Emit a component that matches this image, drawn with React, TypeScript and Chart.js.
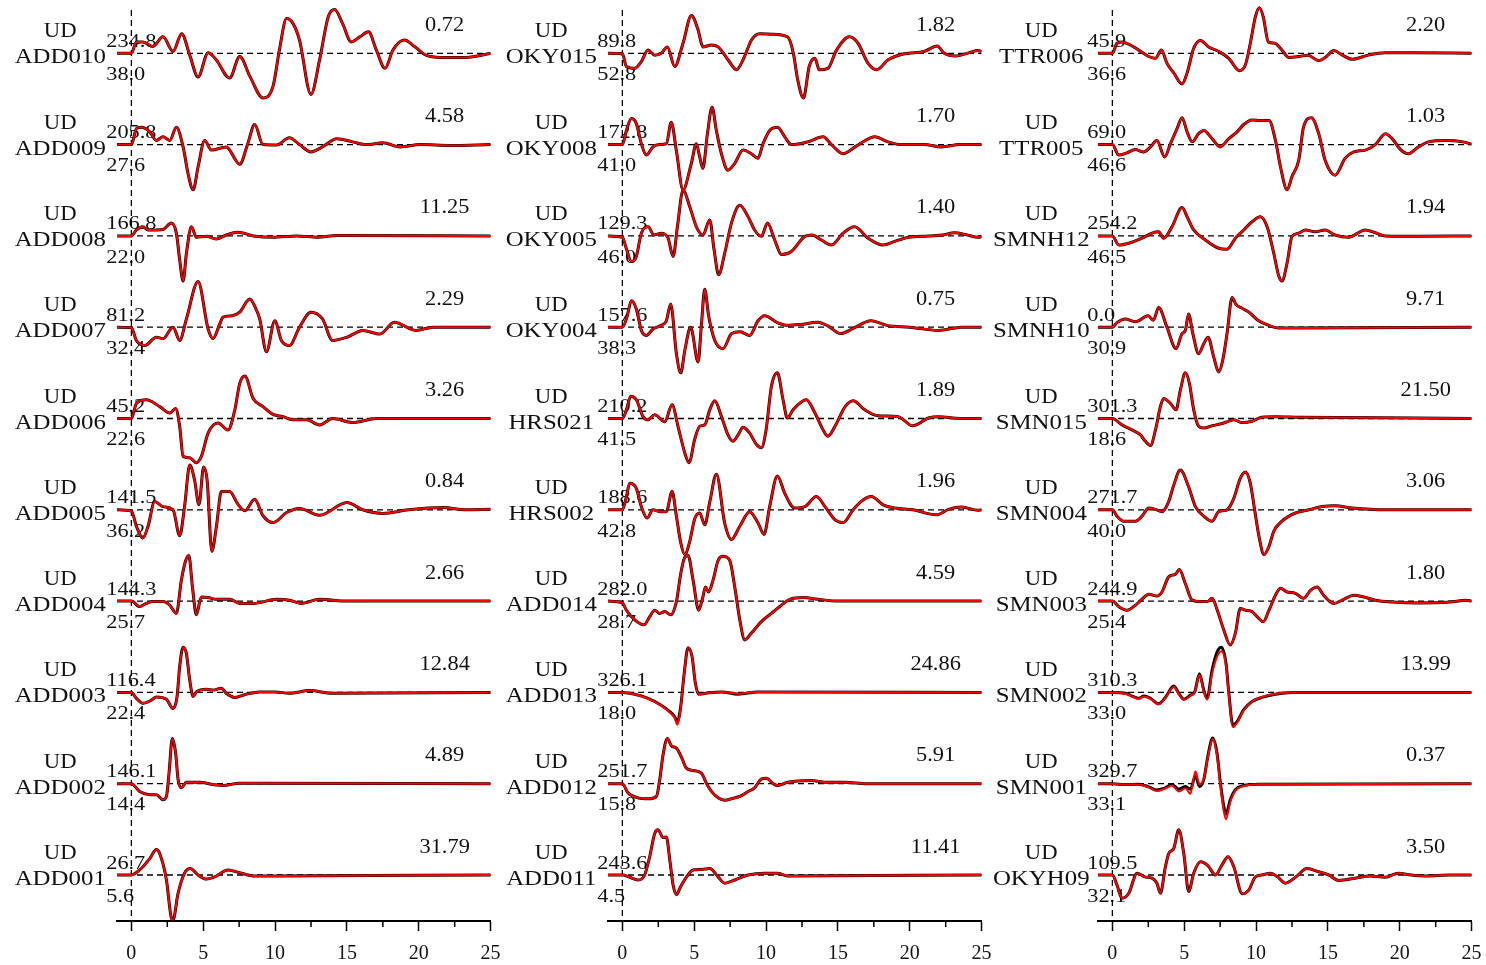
import { useEffect, useRef } from "react";
import { Chart, registerables } from "chart.js";

Chart.register(...registerables);

type Pt = [number, number];

// ---- station labels, one array per column (top row first) ----
const col1Stations = ["ADD010", "ADD009", "ADD008", "ADD007", "ADD006", "ADD005", "ADD004", "ADD003", "ADD002", "ADD001"];
const col1Azimuth = ["234.8", "205.8", "166.8", "81.2", "45.2", "141.5", "144.3", "116.4", "146.1", "26.7"];
const col1Distance = ["38.0", "27.6", "22.0", "32.4", "22.6", "36.2", "25.7", "22.4", "14.4", "5.6"];
const col1Peak = ["0.72", "4.58", "11.25", "2.29", "3.26", "0.84", "2.66", "12.84", "4.89", "31.79"];

const col2Stations = ["OKY015", "OKY008", "OKY005", "OKY004", "HRS021", "HRS002", "ADD014", "ADD013", "ADD012", "ADD011"];
const col2Azimuth = ["89.8", "172.8", "129.3", "157.6", "210.2", "188.6", "282.0", "326.1", "251.7", "243.6"];
const col2Distance = ["52.8", "41.0", "46.0", "38.3", "41.5", "42.8", "28.7", "18.0", "15.8", "4.5"];
const col2Peak = ["1.82", "1.70", "1.40", "0.75", "1.89", "1.96", "4.59", "24.86", "5.91", "11.41"];

const col3Stations = ["TTR006", "TTR005", "SMNH12", "SMNH10", "SMN015", "SMN004", "SMN003", "SMN002", "SMN001", "OKYH09"];
const col3Azimuth = ["45.9", "69.0", "254.2", "0.0", "301.3", "271.7", "244.9", "310.3", "329.7", "109.5"];
const col3Distance = ["36.6", "46.6", "46.5", "30.9", "18.6", "40.0", "25.4", "33.0", "33.1", "32.1"];
const col3Peak = ["2.20", "1.03", "1.94", "9.71", "21.50", "3.06", "1.80", "13.99", "0.37", "3.50"];

const xTickValues = [0, 5, 10, 15, 20, 25];
const xMinorTickValues = [2.5, 7.5, 12.5, 17.5, 22.5];

// ---- normalised UD velocity waveforms: [time (s), amplitude / peak] ----
const ADD010: Pt[] = [[-1,0],[0,0],[0.35,0.25],[0.8,0.25],[1.5,0.15],[2.2,0.36],[2.9,0.04],[3.5,0.43],[4.06,-0.04],[4.64,-0.52],[5.34,0.01],[5.9,-0.14],[6.84,-0.54],[7.54,-0.07],[8.24,-0.5],[9.16,-0.98],[9.86,-0.72],[10.3,0.07],[10.8,0.76],[11.25,0.65],[11.7,0.29],[12.5,-0.9],[13.1,-0.14],[13.7,0.8],[14.15,0.96],[14.7,0.65],[15.3,0.25],[15.9,0.36],[16.5,0.47],[17.05,0.07],[17.65,-0.33],[18.2,0.07],[19.0,0.29],[19.7,0.15],[20.5,-0.04],[21.5,-0.09],[23.3,-0.09],[25,0]];
const ADD009: Pt[] = [[-1,0],[0,0],[0.35,0.35],[0.7,0.38],[1.28,0.28],[1.74,0.09],[2.2,0.17],[2.67,0.09],[3.13,0.38],[3.6,-0.05],[3.94,-0.63],[4.3,-0.99],[4.64,-0.49],[5.1,0.09],[5.57,-0.12],[6.6,-0.05],[7.54,-0.43],[8.1,0.02],[8.58,0.44],[9.16,0],[10.1,-0.01],[11.0,0.15],[11.7,0],[12.5,-0.16],[13.3,-0.05],[14.3,0.13],[15.4,0.06],[16.4,0],[17.5,0.04],[18.7,-0.05],[20.1,0],[22.2,-0.02],[25,0]];
const ADD008: Pt[] = [[-1,0],[0,0],[0.35,0.13],[0.8,0.2],[1.16,0.13],[1.74,0.13],[2.2,0.14],[2.78,0.28],[3.13,0.06],[3.36,-0.52],[3.6,-0.99],[3.83,-0.38],[4.18,0.2],[4.52,-0.03],[5.22,-0.01],[5.9,-0.07],[6.6,0.02],[7.4,0.08],[8.5,0],[9.86,-0.03],[11.5,0],[13,-0.03],[14.3,0.01],[25,0]];
const ADD007: Pt[] = [[-1,0],[0,-0.01],[0.35,-0.29],[0.93,-0.4],[1.74,-0.22],[2.2,-0.25],[2.9,0],[3.36,-0.29],[3.83,0.18],[4.64,1.0],[5.34,-0.04],[5.68,-0.25],[6.15,0.07],[6.38,0.22],[7.0,0.25],[7.54,0.33],[8.24,0.62],[8.6,0.45],[8.93,0.18],[9.4,-0.54],[9.98,0.14],[10.44,-0.29],[11.0,-0.4],[11.7,0],[12.5,0.33],[13.3,0.18],[14.0,-0.29],[15.0,-0.22],[16.1,-0.07],[17.3,-0.15],[18.3,0.11],[19.8,-0.07],[21.0,0],[25,0]];
const ADD006: Pt[] = [[-1,0],[0,0],[0.35,0.33],[1.04,0.41],[1.97,0.26],[2.67,0.12],[3.08,0.22],[3.36,-0.17],[3.6,-0.83],[4.06,-0.86],[4.52,-0.97],[4.87,-0.83],[5.34,-0.32],[6.03,-0.1],[6.73,-0.25],[7.2,0.19],[7.54,0.77],[7.9,0.93],[8.47,0.44],[9.16,0.26],[9.86,0.09],[10.56,0.04],[11.25,-0.03],[12.2,-0.03],[13.1,-0.14],[14.0,0],[15.4,-0.09],[17.05,0],[25,0]];
const ADD005: Pt[] = [[-1,0],[0,-0.03],[0.35,-0.36],[0.8,-0.62],[1.16,-0.36],[1.62,0.18],[2.2,0.07],[2.9,0],[3.36,-0.57],[3.7,0.07],[4.06,0.98],[4.4,0.65],[4.7,0.11],[5.03,0.94],[5.27,0.65],[5.6,-0.91],[5.92,-0.36],[6.26,0.4],[6.84,0.4],[7.42,0.12],[7.9,-0.02],[8.58,0.23],[9.16,-0.13],[9.86,-0.28],[10.8,-0.06],[11.7,0.03],[13.1,-0.12],[15.0,0.16],[16.1,0],[17.5,-0.08],[19.3,0],[21.7,0.05],[23.3,0],[25,0.01]];
const ADD004: Pt[] = [[-1,0],[0,0],[0.58,-0.12],[1.04,-0.05],[1.5,-0.01],[2.2,-0.01],[2.67,-0.09],[3.13,-0.27],[3.48,0.46],[3.78,0.89],[4.0,1.0],[4.25,0.31],[4.52,-0.3],[4.87,0.09],[5.34,0.08],[5.9,0.04],[6.84,0.04],[7.54,-0.05],[8.5,-0.05],[10.1,0.04],[11.0,0.02],[11.8,-0.05],[13.1,0.04],[15,0],[25,0]];
const ADD003: Pt[] = [[-1,0],[0,0],[0.35,-0.13],[0.8,-0.24],[1.4,-0.17],[1.74,-0.1],[2.44,-0.15],[2.9,-0.35],[3.18,-0.09],[3.36,0.56],[3.6,0.99],[3.83,0.85],[4.06,0.27],[4.3,-0.09],[4.52,0.01],[5.22,0.07],[5.7,0.05],[6.26,0.09],[6.6,-0.02],[7.19,-0.11],[8.0,-0.04],[8.93,0.01],[10.0,0.01],[11.0,-0.02],[12.4,0.04],[14.0,-0.02],[25,0]];
const ADD002: Pt[] = [[-1,0],[0,0],[0.58,-0.17],[1.28,-0.24],[1.74,-0.24],[2.2,-0.35],[2.44,-0.28],[2.62,0.23],[2.85,0.99],[3.08,0.67],[3.25,0.09],[3.48,-0.09],[3.83,0.03],[4.76,0.03],[5.7,-0.02],[6.38,-0.04],[7.5,0.01],[25,0]];
const ADD001: Pt[] = [[-1,0],[0,0],[0.58,0.11],[1.28,0.36],[1.74,0.56],[1.97,0.47],[2.44,-0.11],[2.78,-0.94],[2.9,-0.98],[3.25,-0.4],[3.7,0.04],[4.1,0.14],[4.64,0],[5.22,-0.09],[5.8,-0.04],[6.73,0.11],[7.54,0.05],[8.47,-0.02],[10,-0.02],[25,0]];

const OKY015: Pt[] = [[-1,0],[0,-0.01],[0.28,-0.29],[0.86,-0.33],[1.32,-0.18],[1.79,0.07],[2.25,-0.04],[2.7,0],[3.13,0.14],[3.64,-0.29],[4.22,0.22],[4.8,0.83],[5.27,0.51],[5.6,0.14],[6.2,0.18],[6.66,0.14],[7.35,-0.14],[7.94,-0.36],[8.5,-0.07],[8.98,0.29],[9.56,0.43],[10.37,0.42],[11.5,0.36],[11.9,0],[12.2,-0.58],[12.6,-0.98],[13.0,-0.29],[13.4,-0.11],[13.7,-0.36],[14.3,-0.33],[14.9,0.07],[15.8,0.36],[16.4,0.22],[17.1,-0.22],[17.7,-0.36],[18.5,-0.14],[19.65,-0.01],[21.0,0.04],[21.9,0.16],[22.4,0],[23.2,-0.06],[24.1,0.01],[24.75,0.06],[25,0.04]];
const OKY008: Pt[] = [[-1,0],[0,0],[0.28,0.31],[0.63,0.57],[0.97,0.46],[1.32,0.02],[1.67,-0.23],[2.13,-0.05],[2.6,0],[3.06,0.02],[3.4,0.49],[3.76,-0.14],[4.22,-0.99],[4.8,-0.41],[5.15,0.02],[5.38,-0.27],[5.6,-0.52],[5.92,0.24],[6.24,0.82],[6.54,0.31],[6.89,-0.2],[7.35,-0.56],[7.82,-0.41],[8.4,-0.12],[8.98,-0.2],[9.44,-0.3],[9.79,0.02],[10.25,0.31],[10.8,0.38],[11.3,0.17],[11.76,0],[12.9,0.06],[13.97,0.17],[14.55,0],[15.36,-0.2],[16.2,-0.05],[16.9,0.09],[17.56,0.17],[18.5,0.06],[19.4,0],[21,0],[22.2,-0.05],[23.5,0],[25,0]];
const OKY005: Pt[] = [[-1,0],[0,-0.03],[0.23,-0.23],[0.63,-0.56],[0.97,-0.45],[1.32,0.06],[1.79,0.2],[2.2,0.02],[2.7,0.06],[3.18,-0.05],[3.53,-0.45],[3.83,0.2],[4.22,1.0],[4.69,0.64],[5.15,0.2],[5.6,0.02],[6.08,0.35],[6.38,-0.3],[6.7,-0.85],[7.12,-0.38],[7.59,0.28],[8.17,0.67],[8.75,0.42],[9.2,0.13],[9.67,-0.01],[10.1,0.28],[10.6,-0.09],[11.07,-0.41],[11.76,-0.34],[12.7,-0.01],[13.2,0.02],[13.85,-0.09],[14.55,-0.2],[15.36,0.06],[16.17,0.2],[17.1,-0.05],[18.14,-0.2],[18.96,-0.12],[19.9,-0.03],[21.3,0],[22.3,0.02],[23.1,0.07],[24,0.02],[24.75,-0.03],[25,-0.02]];
const OKY004: Pt[] = [[-1,0],[0,0],[0.3,0.2],[0.63,0.58],[0.97,0.4],[1.32,-0.07],[1.67,-0.18],[2.13,-0.04],[2.7,0.04],[3.06,0.14],[3.36,0.51],[3.76,-0.58],[4.06,-1.0],[4.35,-0.5],[4.75,0.0],[5.27,-0.76],[5.5,0.05],[5.73,0.83],[6.0,0.25],[6.43,-0.29],[7.0,-0.47],[7.6,-0.14],[8.2,-0.1],[8.86,-0.18],[9.44,0.14],[9.9,0.25],[10.8,0.1],[11.5,0.04],[12.4,0.06],[13.6,0.11],[14.3,0.03],[15.2,-0.14],[16.1,-0.02],[17.3,0.14],[18.4,0.04],[20.0,0],[22.0,-0.07],[23.6,0],[25,0]];
const HRS021: Pt[] = [[-1,0],[0,0],[0.28,0.19],[0.58,0.49],[0.97,0.41],[1.44,0.04],[1.79,-0.03],[2.25,0.08],[2.95,-0.07],[3.46,0.3],[3.87,-0.17],[4.34,-0.75],[4.64,-0.97],[5.03,-0.46],[5.38,-0.17],[5.73,-0.14],[6.08,0.19],[6.43,0.39],[6.9,0.04],[7.35,-0.36],[7.7,-0.5],[8.05,-0.36],[8.4,-0.19],[8.86,-0.32],[9.33,-0.57],[9.67,-0.64],[10.0,-0.25],[10.37,0.7],[10.79,1.0],[11.18,0.41],[11.48,0.01],[11.88,0.19],[12.8,0.41],[13.4,0.12],[13.97,-0.25],[14.3,-0.39],[14.8,-0.17],[15.5,0.26],[16.06,0.39],[16.87,0.19],[17.8,0.06],[19.2,0.04],[20.2,-0.16],[21.3,0.01],[22.0,0.04],[23.5,0],[25,0]];
const HRS002: Pt[] = [[-1,0],[0,0],[0.28,0.29],[0.51,0.58],[0.97,0.47],[1.32,0.07],[1.72,-0.18],[2.13,0],[2.6,-0.04],[3.06,-0.04],[3.46,0.4],[3.76,-0.14],[4.06,-0.72],[4.34,-0.98],[4.69,-0.69],[5.03,-0.2],[5.38,-0.07],[5.73,-0.33],[6.1,0.2],[6.54,0.78],[7.12,-0.29],[7.59,-0.65],[8.17,-0.36],[8.86,-0.04],[9.44,-0.29],[9.86,-0.54],[10.25,0.07],[10.79,0.74],[11.3,0.36],[11.99,0.04],[12.7,0.07],[13.5,0.29],[14.1,0.07],[14.8,-0.22],[15.36,-0.28],[16.06,0],[16.6,0.18],[17.33,0.29],[18.14,0.11],[18.96,0.04],[20.2,0],[21.86,-0.11],[22.7,0.01],[23.6,0.06],[24.75,-0.01],[25,0]];
const ADD014: Pt[] = [[-1,0],[0,-0.04],[0.28,-0.2],[0.86,-0.41],[1.51,-0.52],[1.9,-0.34],[2.25,-0.2],[2.6,-0.27],[2.95,-0.23],[3.36,-0.3],[3.76,-0.01],[4.06,0.6],[4.34,0.96],[4.57,1.0],[4.92,0.46],[5.31,-0.2],[5.6,0.09],[5.78,0.31],[6.0,0.2],[6.31,0.46],[6.66,0.89],[7.0,0.98],[7.47,0.89],[7.82,0.31],[8.17,-0.41],[8.52,-0.85],[8.98,-0.7],[9.67,-0.45],[10.37,-0.27],[11.07,-0.09],[11.65,0.04],[12.6,0.08],[13.6,0.04],[15,0],[25,0]];
const ADD013: Pt[] = [[-1,0],[0,0],[0.86,-0.04],[1.79,-0.13],[2.7,-0.28],[3.3,-0.42],[3.64,-0.53],[3.83,-0.64],[4.06,-0.31],[4.3,0.41],[4.57,0.98],[4.85,0.78],[5.08,0.2],[5.31,-0.04],[6.0,-0.01],[6.9,0.01],[8.05,-0.04],[9.4,0.01],[25,0]];
const ADD013_SYN: Pt[] = [[-1,0],[0,0],[0.86,-0.04],[1.79,-0.14],[2.7,-0.29],[3.3,-0.44],[3.64,-0.56],[3.83,-0.71],[4.06,-0.33],[4.3,0.41],[4.57,0.98],[4.85,0.78],[5.08,0.2],[5.31,-0.04],[6.0,-0.01],[6.9,0.01],[8.05,-0.03],[9.4,0.01],[25,0]];
const ADD012: Pt[] = [[-1,0],[0,0],[0.39,-0.2],[1.09,-0.31],[1.79,-0.33],[2.37,-0.28],[2.6,0.09],[2.83,0.63],[3.13,0.99],[3.41,0.83],[3.76,0.78],[4.1,0.59],[4.45,0.34],[4.92,0.29],[5.5,0.23],[5.85,0.01],[6.2,-0.17],[6.66,-0.31],[7.12,-0.36],[7.59,-0.33],[8.17,-0.28],[8.75,-0.17],[9.2,-0.09],[9.67,0.1],[10.02,0.12],[10.5,0],[10.8,-0.04],[11.5,0.03],[13.1,0.07],[14.3,0.03],[15.5,0.03],[17,0],[25,0]];
const ADD011: Pt[] = [[-1,0],[0,0],[0.51,-0.05],[1.09,-0.11],[1.55,0],[1.9,0.4],[2.25,0.91],[2.48,0.99],[2.83,0.82],[3.06,0.83],[3.3,0.33],[3.53,-0.22],[3.76,-0.43],[4.06,-0.25],[4.45,-0.05],[4.92,0.11],[5.5,0.12],[6.08,0.14],[6.66,-0.04],[7.12,-0.18],[7.82,-0.11],[8.75,0],[9.9,0.04],[10.8,0.04],[11.5,-0.02],[25,0]];

const TTR006: Pt[] = [[-1,0],[0,0],[0.32,0.22],[0.67,0.25],[1.14,0.2],[1.83,0.07],[2.53,-0.07],[3.0,-0.11],[3.41,0.07],[3.8,-0.22],[4.27,-0.43],[4.85,-0.67],[5.2,-0.43],[5.66,0.11],[6.13,0.28],[6.7,0.14],[7.4,0.04],[8.1,-0.11],[8.84,-0.38],[9.26,-0.25],[9.6,0.22],[9.95,0.8],[10.23,1.0],[10.5,0.8],[10.85,0.25],[11.3,0.22],[11.8,0.07],[12.27,-0.09],[12.97,-0.07],[13.6,-0.04],[14.36,-0.16],[14.9,-0.07],[15.4,0.06],[16.0,-0.04],[16.7,-0.13],[17.8,-0.04],[19.0,0.01],[21,0.01],[25,0]];
const TTR005: Pt[] = [[-1,0],[0,0],[0.44,-0.23],[1.02,-0.18],[1.6,-0.11],[2.18,-0.16],[2.65,-0.05],[3.1,0.09],[3.64,-0.27],[4.04,0.02],[4.5,0.35],[4.85,0.59],[5.2,0.28],[5.55,0.06],[6.0,0.24],[6.36,0.31],[6.94,0.13],[7.5,-0.05],[8.1,0.13],[8.68,0.28],[9.14,0.44],[9.72,0.54],[10.3,0.53],[10.9,0.53],[11.35,0.09],[11.7,-0.49],[12.16,-0.99],[12.5,-0.7],[12.97,-0.34],[13.3,0.38],[13.85,0.59],[14.36,0.24],[14.8,-0.34],[15.5,-0.67],[16.2,-0.3],[16.8,-0.16],[17.6,-0.12],[18.3,0],[19.0,0.24],[19.47,0.13],[20.05,-0.11],[20.6,-0.2],[21.3,-0.05],[22.0,0.06],[23.2,0.09],[24.4,0.06],[25,0.01]];
const SMNH12: Pt[] = [[-1,0],[0,0],[0.44,-0.2],[1.14,-0.16],[2.07,-0.05],[2.76,0.06],[3.22,0.09],[3.57,-0.05],[4.15,0.2],[4.85,0.62],[5.2,0.42],[5.66,0.13],[6.47,-0.09],[7.4,-0.27],[7.98,-0.29],[8.56,-0.05],[9.14,0.13],[9.72,0.31],[10.3,0.42],[10.77,0.2],[11.23,-0.38],[11.58,-0.88],[11.8,-0.99],[12.16,-0.59],[12.5,-0.01],[12.97,0.06],[13.43,0.13],[14.13,0.09],[14.8,0.13],[15.5,0.02],[16.45,-0.03],[17.6,0.13],[18.3,0.07],[19.0,0],[21.3,-0.01],[25,0]];
const SMNH10: Pt[] = [[-1,0],[0,0],[0.32,0.1],[0.9,0.18],[1.6,0.12],[2.5,0.25],[2.85,0.15],[3.22,0.43],[3.8,0],[4.43,-0.47],[4.85,-0.14],[5.08,-0.07],[5.3,0.29],[5.6,-0.14],[6.0,-0.58],[6.36,-0.36],[6.66,-0.22],[7.05,-0.65],[7.4,-0.98],[7.68,-0.72],[7.98,-0.14],[8.33,0.65],[8.6,0.5],[9.0,0.42],[9.5,0.33],[10.1,0.16],[10.8,0.05],[11.6,-0.02],[12.5,-0.02],[25,0]];
const SMN015: Pt[] = [[-1,0],[0,0],[0.67,-0.14],[1.37,-0.25],[1.95,-0.36],[2.3,-0.5],[2.65,-0.59],[3.0,-0.25],[3.34,0.26],[3.57,0.44],[4.04,0.33],[4.43,0.19],[4.73,0.62],[5.08,1.0],[5.36,0.77],[5.66,0.19],[6.0,-0.17],[6.36,-0.21],[6.94,-0.16],[7.75,-0.1],[8.45,-0.03],[9.03,-0.09],[9.72,-0.06],[10.4,0.03],[11.35,0.04],[13,0.03],[25,0]];
const SMN004: Pt[] = [[-1,0],[0,0],[0.32,-0.14],[0.79,-0.25],[1.6,-0.25],[2.06,-0.14],[2.53,0.04],[3.0,0.01],[3.45,-0.04],[3.92,0.18],[4.27,0.54],[4.73,0.87],[5.3,0.51],[5.78,0.07],[6.36,-0.14],[6.94,-0.25],[7.4,-0.04],[7.98,0],[8.45,0.25],[8.9,0.69],[9.26,0.83],[9.6,0.58],[9.9,0],[10.2,-0.58],[10.55,-0.98],[10.9,-0.8],[11.23,-0.47],[11.8,-0.25],[12.74,-0.07],[13.67,0],[14.6,0.07],[15.5,0.09],[16.7,0.04],[19,0],[25,0]];
const SMN003: Pt[] = [[-1,0],[0,0],[0.44,-0.12],[1.02,-0.2],[1.6,-0.09],[2.06,0.04],[2.53,0.15],[3.1,0.11],[3.45,0.2],[3.92,0.53],[4.39,0.59],[4.66,0.69],[5.08,0.38],[5.55,0.02],[6.13,-0.01],[6.6,-0.01],[6.94,0.06],[7.3,-0.2],[7.75,-0.63],[8.2,-0.96],[8.56,-0.7],[8.9,-0.16],[9.26,-0.2],[9.72,-0.23],[10.07,-0.34],[10.5,-0.45],[10.9,-0.2],[11.35,0.13],[11.7,0.28],[12.16,0.2],[12.74,0.17],[13.3,0.06],[13.8,0.24],[14.25,0.31],[14.7,0.13],[15.4,-0.05],[16.1,0.04],[16.8,0.13],[17.5,0.09],[18.3,0.02],[19.5,-0.02],[21.3,-0.04],[23.5,-0.02],[24.6,0.02],[25,0]];
const SMN002: Pt[] = [[-1,0],[0,0],[0.9,-0.02],[1.37,-0.08],[1.83,-0.13],[2.2,-0.08],[2.65,-0.13],[3.22,-0.25],[3.69,-0.11],[4.27,0.14],[4.62,-0.02],[4.97,-0.15],[5.43,-0.06],[5.73,0.01],[6.06,0.41],[6.36,0.05],[6.59,-0.13],[6.94,0.49],[7.28,0.88],[7.59,0.99],[7.91,0.63],[8.1,0],[8.38,-0.71],[8.68,-0.64],[9.14,-0.38],[9.72,-0.2],[10.4,-0.11],[11.35,-0.04],[12.5,0],[25,0]];
const SMN002_SYN: Pt[] = [[-1,0],[0,0],[0.9,-0.03],[1.37,-0.09],[1.83,-0.14],[2.2,-0.09],[2.65,-0.14],[3.22,-0.26],[3.69,-0.12],[4.27,0.12],[4.62,-0.04],[4.97,-0.16],[5.43,-0.07],[5.73,0.0],[6.06,0.38],[6.36,0.02],[6.59,-0.16],[6.94,0.42],[7.28,0.78],[7.59,0.9],[7.91,0.58],[8.1,-0.04],[8.38,-0.76],[8.68,-0.66],[9.14,-0.39],[9.72,-0.2],[10.4,-0.1],[11.35,-0.03],[12.5,0],[25,0]];
const SMN001: Pt[] = [[-1,0],[0,0],[0.9,-0.02],[1.83,-0.01],[2.53,-0.07],[3.1,-0.14],[3.69,-0.09],[4.15,-0.02],[4.62,-0.12],[5.08,-0.06],[5.43,-0.12],[5.78,0.17],[6.06,-0.06],[6.36,0.09],[6.66,0.63],[6.98,1.0],[7.28,0.67],[7.52,0.01],[7.75,-0.49],[7.91,-0.67],[8.2,-0.35],[8.56,-0.13],[9.14,-0.04],[10.2,-0.01],[25,0]];
const SMN001_SYN: Pt[] = [[-1,0],[0,0],[0.9,-0.02],[1.83,-0.02],[2.53,-0.08],[3.1,-0.16],[3.69,-0.1],[4.15,-0.04],[4.62,-0.17],[5.08,-0.1],[5.43,-0.22],[5.78,0.27],[6.06,-0.02],[6.36,0.12],[6.66,0.6],[6.98,0.98],[7.28,0.62],[7.52,-0.05],[7.75,-0.6],[7.91,-0.78],[8.2,-0.4],[8.56,-0.15],[9.14,-0.05],[10.2,-0.01],[25,0]];
const OKYH09: Pt[] = [[-1,0],[0,0],[0.32,-0.22],[0.67,-0.51],[1.14,-0.4],[1.72,0.04],[2.25,-0.04],[2.76,-0.07],[3.1,-0.18],[3.34,-0.4],[3.69,0.18],[3.92,0.47],[4.27,0.58],[4.62,0.99],[4.97,0.47],[5.31,-0.36],[5.66,0.04],[6.13,0.29],[6.66,0.2],[7.17,0],[7.63,0.22],[8.05,0.4],[8.45,0.18],[9.03,-0.41],[9.49,-0.33],[9.95,-0.04],[10.4,0],[11.0,0.04],[11.5,-0.04],[12.04,-0.18],[12.74,-0.05],[13.55,0.14],[14.36,0.07],[15.06,0],[15.75,-0.12],[16.9,-0.07],[17.9,-0.02],[19.0,-0.05],[19.9,0.04],[20.8,0],[21.8,-0.02],[23.5,0],[25,0]];

// observed (black) and synthetic (red) records, per column
const col1Observed = [ADD010, ADD009, ADD008, ADD007, ADD006, ADD005, ADD004, ADD003, ADD002, ADD001];
const col1Synthetic = [ADD010, ADD009, ADD008, ADD007, ADD006, ADD005, ADD004, ADD003, ADD002, ADD001];
const col2Observed = [OKY015, OKY008, OKY005, OKY004, HRS021, HRS002, ADD014, ADD013, ADD012, ADD011];
const col2Synthetic = [OKY015, OKY008, OKY005, OKY004, HRS021, HRS002, ADD014, ADD013_SYN, ADD012, ADD011];
const col3Observed = [TTR006, TTR005, SMNH12, SMNH10, SMN015, SMN004, SMN003, SMN002, SMN001, OKYH09];
const col3Synthetic = [TTR006, TTR005, SMNH12, SMNH10, SMN015, SMN004, SMN003, SMN002_SYN, SMN001_SYN, OKYH09];

// ---- layout ----
const PAGE_W = 1486;
const PAGE_H = 965;
const CANVAS_W = 530;
const PAD_L = 125;
const PX_PER_SEC = 14.37;
const PAD_R = CANVAS_W - PAD_L - 26 * PX_PER_SEC;
const PAD_TOP = 5;
const AXIS_H = 44;
const ROWS = 10;
const ROW_PX = 91.3;
const FIRST_BASE_PX = 53.3;
const GAIN = 0.5;
const Y_MAX = ROWS - 1 + (FIRST_BASE_PX - PAD_TOP) / ROW_PX;
const Y_MIN = Y_MAX - (PAGE_H - AXIS_H - PAD_TOP) / ROW_PX;
const LABEL_X = -4.95;
const NUM_X = -1.75;
const PEAK_X = 21.8;
const SERIF = '"Liberation Serif", "Times New Roman", serif';

interface ColumnProps {
  zeroPx: number;
  stations: string[];
  azimuth: string[];
  distance: string[];
  peak: string[];
  observed: Pt[][];
  synthetic: Pt[][];
}

function drawStretched(ctx: CanvasRenderingContext2D, text: string, x: number, y: number, align: CanvasTextAlign, font: string, sx: number) {
  ctx.save();
  ctx.translate(x, y);
  ctx.scale(sx, 1);
  ctx.font = font;
  ctx.fillStyle = "#111";
  ctx.textAlign = align;
  ctx.textBaseline = "alphabetic";
  ctx.fillText(text, 0, 0);
  ctx.restore();
}

function WaveColumn(props: ColumnProps) {
  const ref = useRef<HTMLCanvasElement | null>(null);

  useEffect(() => {
    const canvas = ref.current;
    if (!canvas) return;
    const { stations, azimuth, distance, peak, observed, synthetic } = props;
    const offsetOf = (row: number) => ROWS - 1 - row;

    const datasets: any[] = [];
    observed.forEach((trace, row) => {
      const off = offsetOf(row);
      datasets.push({
        data: [{ x: -1, y: off }, { x: 25, y: off }],
        borderColor: "#000",
        borderWidth: 1.3,
        borderDash: [6, 4],
        pointRadius: 0,
        order: 3,
      });
      datasets.push({
        data: trace.map(([t, v]) => ({ x: t, y: off + GAIN * v })),
        borderColor: "#000",
        borderWidth: 3,
        pointRadius: 0,
        cubicInterpolationMode: "monotone",
        order: 2,
      });
      datasets.push({
        data: synthetic[row].map(([t, v]) => ({ x: t, y: off + GAIN * v })),
        borderColor: "#ff0000",
        borderWidth: 2,
        pointRadius: 0,
        cubicInterpolationMode: "monotone",
        order: 1,
      });
    });
    // origin-time marker
    datasets.push({
      data: [{ x: 0, y: Y_MAX - 5 / ROW_PX }, { x: 0, y: Y_MIN }],
      borderColor: "#000",
      borderWidth: 1.3,
      borderDash: [6, 4],
      pointRadius: 0,
      order: 3,
    });

    const labels = {
      id: "stationLabels",
      beforeDatasetsDraw(chart: any) {
        const { ctx, scales } = chart;
        const x = scales.x;
        const y = scales.y;
        const cx = x.getPixelForValue(LABEL_X);
        const nx = x.getPixelForValue(NUM_X);
        const px = x.getPixelForValue(PEAK_X);
        stations.forEach((name, row) => {
          const base = y.getPixelForValue(offsetOf(row));
          drawStretched(ctx, "UD", cx, base - 16, "center", `21px ${SERIF}`, 1.08);
          drawStretched(ctx, name, cx, base + 10, "center", `22px ${SERIF}`, 1.13);
          drawStretched(ctx, azimuth[row], nx, base - 6.5, "left", `18px ${SERIF}`, 1.24);
          drawStretched(ctx, distance[row], nx, base + 26.7, "left", `18px ${SERIF}`, 1.24);
          drawStretched(ctx, peak[row], px, base - 22.5, "center", `20px ${SERIF}`, 1.12);
        });
      },
      afterDraw(chart: any) {
        const { ctx, scales, chartArea } = chart;
        ctx.save();
        ctx.strokeStyle = "#000";
        ctx.lineWidth = 1.5;
        xMinorTickValues.forEach((v) => {
          const p = scales.x.getPixelForValue(v);
          ctx.beginPath();
          ctx.moveTo(p, chartArea.bottom);
          ctx.lineTo(p, chartArea.bottom + 6);
          ctx.stroke();
        });
        ctx.restore();
      },
    };

    const chart = new Chart(canvas, {
      type: "line",
      data: { datasets },
      options: {
        animation: false,
        responsive: false,
        devicePixelRatio: 1,
        events: [],
        layout: { padding: { left: PAD_L, right: PAD_R, top: PAD_TOP, bottom: 0 } },
        plugins: { legend: { display: false }, tooltip: { enabled: false } },
        elements: { line: { tension: 0 } },
        scales: {
          x: {
            type: "linear",
            min: -1,
            max: 25,
            afterBuildTicks: (s: any) => {
              s.ticks = xTickValues.map((v) => ({ value: v }));
            },
            afterFit: (s: any) => {
              s.height = AXIS_H;
            },
            ticks: {
              font: { family: SERIF, size: 20 },
              color: "#111",
              padding: 11,
              maxRotation: 0,
              autoSkip: false,
            },
            grid: {
              display: true,
              drawOnChartArea: false,
              drawTicks: true,
              tickLength: 10,
              tickWidth: 1.5,
              tickColor: "#000",
            },
            border: { display: true, color: "#000", width: 2 },
          },
          y: { type: "linear", display: false, min: Y_MIN, max: Y_MAX },
        },
      },
      plugins: [labels],
    } as any);

    return () => chart.destroy();
  }, []);

  return (
    <canvas
      ref={ref}
      width={CANVAS_W}
      height={PAGE_H}
      style={{ position: "absolute", left: props.zeroPx - PX_PER_SEC - PAD_L, top: 0, width: CANVAS_W, height: PAGE_H }}
    />
  );
}

export default function App() {
  return (
    <div style={{ position: "absolute", left: 0, top: 0, width: PAGE_W, height: PAGE_H, overflow: "hidden", background: "#fff" }}>
      <WaveColumn zeroPx={131.5} stations={col1Stations} azimuth={col1Azimuth} distance={col1Distance} peak={col1Peak} observed={col1Observed} synthetic={col1Synthetic} />
      <WaveColumn zeroPx={622.7} stations={col2Stations} azimuth={col2Azimuth} distance={col2Distance} peak={col2Peak} observed={col2Observed} synthetic={col2Synthetic} />
      <WaveColumn zeroPx={1112} stations={col3Stations} azimuth={col3Azimuth} distance={col3Distance} peak={col3Peak} observed={col3Observed} synthetic={col3Synthetic} />
    </div>
  );
}
